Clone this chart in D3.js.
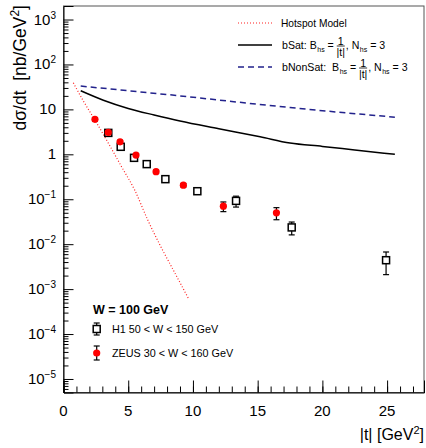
<!DOCTYPE html>
<html>
<head>
<meta charset="utf-8">
<script src="https://cdn.jsdelivr.net/npm/d3@7"></script>
<style>
  body { margin: 0; background: #fff; }
  text { font-family: "Liberation Sans", Arial, sans-serif; white-space: pre; }
</style>
</head>
<body>
<script>
// data
var zeusT   = [2.43, 3.46, 4.37, 5.6, 7.15, 9.26, 12.35, 16.45];
var zeusVal = [6.0, 3.07, 1.9, 0.96, 0.41, 0.206, 0.070, 0.050];
var zeusErr = [0.5, 0.25, 0.15, 0.08, 0.035, 0.018, 0.017, 0.015];

var h1T   = [3.46, 4.42, 5.45, 6.43, 7.87, 10.34, 13.33, 17.63, 24.92];
var h1Val = [3.0, 1.47, 0.835, 0.605, 0.28, 0.151, 0.092, 0.0236, 0.0044];
var h1Err = [0.3, 0.18, 0.1, 0.07, 0.035, 0.02, 0.025, 0.0075, 0.0023];

var hotT   = [0.76, 1.5, 2.43, 3.5, 4.5, 5.5, 6.5, 7.5, 8.5, 9.65];
var hotVal = [39, 16, 5.8, 1.7, 0.52, 0.16, 0.035, 0.009, 0.0026, 0.00062];

var satT   = [1.33, 3.08, 5, 7, 9.0, 12, 15.19, 17.5, 20, 22.5, 25.6];
var satVal = [26, 16, 10.5, 7.5, 5.5, 3.7, 2.45, 1.78, 1.5, 1.25, 1.0];

var nonT   = [1.33, 5, 9.0, 13, 17.5, 21, 25.6];
var nonVal = [33, 26, 20, 15, 11, 8.8, 6.7];

var xMajor = [0, 5, 10, 15, 20, 25];
var yExp   = [3, 2, 1, 0, -1, -2, -3, -4, -5];

var W = 426, H = 448;
var svg = d3.select("body").append("svg")
    .attr("width", W)
    .attr("height", H);

var x = d3.scaleLinear().domain([0, 27.85]).range([63.5, 424]);
var y = d3.scaleLog().domain([5e-6, 2e3]).range([392.5, 6]);

// frame
svg.append("rect")
    .attr("x", x(0)).attr("y", y(2e3))
    .attr("width", x(27.85) - x(0))
    .attr("height", y(5e-6) - y(2e3))
    .attr("fill", "none")
    .attr("stroke", "#555")
    .attr("stroke-width", 1);

// y ticks (pointing inside)
var yMinor = [];
for (var e = -6; e <= 3; e++) {
    for (var m = 2; m <= 9; m++) {
        var v = m * Math.pow(10, e);
        if (v > 5e-6 && v < 2e3) yMinor.push(v);
    }
}
svg.append("g")
    .attr("transform", "translate(" + x(0) + ",0)")
    .call(d3.axisLeft(y).tickValues(yMinor).tickSize(-5).tickFormat(""))
    .call(function(g) { g.select(".domain").remove(); });
svg.append("g")
    .attr("transform", "translate(" + x(0) + ",0)")
    .call(d3.axisLeft(y).tickValues(yExp.map(function(p) { return Math.pow(10, p); }))
        .tickSize(-10).tickFormat(""))
    .call(function(g) { g.select(".domain").attr("stroke", "#000"); });

// x ticks
svg.append("g")
    .attr("transform", "translate(0," + y(5e-6) + ")")
    .call(d3.axisBottom(x).tickValues(d3.range(0, 28, 1)).tickSize(-6).tickFormat(""))
    .call(function(g) { g.select(".domain").remove(); });
svg.append("g")
    .attr("transform", "translate(0," + y(5e-6) + ")")
    .call(d3.axisBottom(x).tickValues(xMajor).tickSize(-12).tickFormat(""))
    .call(function(g) { g.select(".domain").attr("stroke", "#000"); });

// x tick labels
svg.selectAll(".xl").data(xMajor).enter().append("text")
    .attr("x", function(d) { return x(d); })
    .attr("y", 416)
    .attr("text-anchor", "middle")
    .attr("font-size", 15)
    .text(function(d) { return d; });

// y tick labels
yExp.forEach(function(p) {
    var t = svg.append("text")
        .attr("x", 56)
        .attr("y", y(Math.pow(10, p)) + 5)
        .attr("text-anchor", "end")
        .attr("font-size", 15);
    if (p === 0) { t.text("1"); return; }
    if (p === 1) { t.text("10"); return; }
    t.append("tspan").text("10");
    t.append("tspan").attr("dy", -6).attr("font-size", 10)
        .text(p < 0 ? "\u2212" + (-p) : p);
});

// axis titles
var yt = svg.append("text")
    .attr("transform", "translate(26,5) rotate(-90)")
    .attr("text-anchor", "end")
    .attr("font-size", 17.5);
yt.append("tspan").text("d\u03c3/dt\u00a0\u00a0[nb/GeV");
yt.append("tspan").attr("dy", -7).attr("font-size", 12).text("2");
yt.append("tspan").attr("dy", 7).text("]");

var xt = svg.append("text")
    .attr("x", 424)
    .attr("y", 440)
    .attr("text-anchor", "end")
    .attr("font-size", 16);
xt.append("tspan").text("|t| [GeV");
xt.append("tspan").attr("dy", -6).attr("font-size", 11).text("2");
xt.append("tspan").attr("dy", 6).text("]");

// curves
var line = d3.line()
    .x(function(d) { return x(d[0]); })
    .y(function(d) { return y(d[1]); })
    .curve(d3.curveMonotoneX);

svg.append("path")
    .datum(d3.zip(hotT, hotVal))
    .attr("d", line)
    .attr("fill", "none")
    .attr("stroke", "#ff2020")
    .attr("stroke-width", 1.2)
    .attr("stroke-dasharray", "1,2");

svg.append("path")
    .datum(d3.zip(satT, satVal))
    .attr("d", line)
    .attr("fill", "none")
    .attr("stroke", "#000")
    .attr("stroke-width", 1.5);

svg.append("path")
    .datum(d3.zip(nonT, nonVal))
    .attr("d", line)
    .attr("fill", "none")
    .attr("stroke", "#22228c")
    .attr("stroke-width", 1.5)
    .attr("stroke-dasharray", "6,4");

// error bars
function errBars(ts, vs, es) {
    var g = svg.append("g").attr("stroke", "#000").attr("stroke-width", 1.2);
    ts.forEach(function(t, i) {
        var cx = x(t), y1 = y(vs[i] + es[i]), y2 = y(vs[i] - es[i]);
        g.append("line").attr("x1", cx).attr("x2", cx).attr("y1", y1).attr("y2", y2);
        g.append("line").attr("x1", cx - 3).attr("x2", cx + 3).attr("y1", y1).attr("y2", y1);
        g.append("line").attr("x1", cx - 3).attr("x2", cx + 3).attr("y1", y2).attr("y2", y2);
    });
}
errBars(h1T, h1Val, h1Err);
errBars(zeusT, zeusVal, zeusErr);

// H1 open squares
svg.selectAll(".h1").data(d3.zip(h1T, h1Val)).enter().append("rect")
    .attr("x", function(d) { return x(d[0]) - 3.5; })
    .attr("y", function(d) { return y(d[1]) - 3.5; })
    .attr("width", 7).attr("height", 7)
    .attr("fill", "#fff")
    .attr("stroke", "#000")
    .attr("stroke-width", 1.5);

// ZEUS red dots
svg.selectAll(".zeus").data(d3.zip(zeusT, zeusVal)).enter().append("circle")
    .attr("cx", function(d) { return x(d[0]); })
    .attr("cy", function(d) { return y(d[1]); })
    .attr("r", 3.6)
    .attr("fill", "#ff0000");

// top legend
function bhsText(tx, ty, label) {
    var g = svg.append("g").attr("font-size", 10.6);
    var cx = tx;
    function put(s, dx, dy, fs) {
        var t = g.append("text").attr("x", cx + (dx || 0)).attr("y", ty + (dy || 0)).text(s);
        if (fs) t.attr("font-size", fs);
        var w = t.node().getComputedTextLength();
        cx += w + (dx || 0);
        return t;
    }
    put(label);
    put("B");
    put("hs", 0.5, 3, 7);
    put("\u00a0=\u00a0");
    var fx = cx;
    g.append("text").attr("x", fx + 4).attr("y", ty - 4).attr("text-anchor", "middle").text("1");
    g.append("line").attr("x1", fx).attr("x2", fx + 8).attr("y1", ty - 2.5).attr("y2", ty - 2.5)
        .attr("stroke", "#000").attr("stroke-width", 0.8);
    g.append("text").attr("x", fx + 4).attr("y", ty + 7.5).attr("text-anchor", "middle").text("|t|");
    cx = fx + 9;
    put(",\u00a0N");
    put("hs", 0.5, 3, 7);
    put("\u00a0=\u00a03");
}

svg.append("line").attr("x1", 238).attr("x2", 272).attr("y1", 23).attr("y2", 23)
    .attr("stroke", "#ff2020").attr("stroke-width", 1.2).attr("stroke-dasharray", "1,2");
svg.append("text").attr("x", 281).attr("y", 26.5).attr("font-size", 10.2).text("Hotspot Model");

svg.append("line").attr("x1", 238).attr("x2", 272).attr("y1", 45).attr("y2", 45)
    .attr("stroke", "#000").attr("stroke-width", 1.5);
bhsText(282, 48.5, "bSat:\u00a0");

svg.append("line").attr("x1", 238).attr("x2", 272).attr("y1", 67).attr("y2", 67)
    .attr("stroke", "#22228c").attr("stroke-width", 1.5).attr("stroke-dasharray", "6,4");
bhsText(282, 70.5, "bNonSat:\u00a0\u00a0");

// bottom legend
svg.append("text").attr("x", 93).attr("y", 314).attr("font-size", 12.5)
    .attr("font-weight", "bold").text("W = 100 GeV");

var lg = svg.append("g").attr("stroke", "#000").attr("stroke-width", 1.2);
[[329, 6], [353, 7]].forEach(function(r) {
    lg.append("line").attr("x1", 96.7).attr("x2", 96.7).attr("y1", r[0] - r[1]).attr("y2", r[0] + r[1]);
    lg.append("line").attr("x1", 93.7).attr("x2", 99.7).attr("y1", r[0] - r[1]).attr("y2", r[0] - r[1]);
    lg.append("line").attr("x1", 93.7).attr("x2", 99.7).attr("y1", r[0] + r[1]).attr("y2", r[0] + r[1]);
});
svg.append("rect").attr("x", 93.2).attr("y", 325.5).attr("width", 7).attr("height", 7)
    .attr("fill", "#fff").attr("stroke", "#000").attr("stroke-width", 1.5);
svg.append("circle").attr("cx", 96.7).attr("cy", 353).attr("r", 3.6).attr("fill", "#ff0000");
svg.append("text").attr("x", 112).attr("y", 333).attr("font-size", 10.8).text("H1 50 < W < 150 GeV");
svg.append("text").attr("x", 112).attr("y", 357).attr("font-size", 10.8).text("ZEUS 30 < W < 160 GeV");
</script>
</body>
</html>
